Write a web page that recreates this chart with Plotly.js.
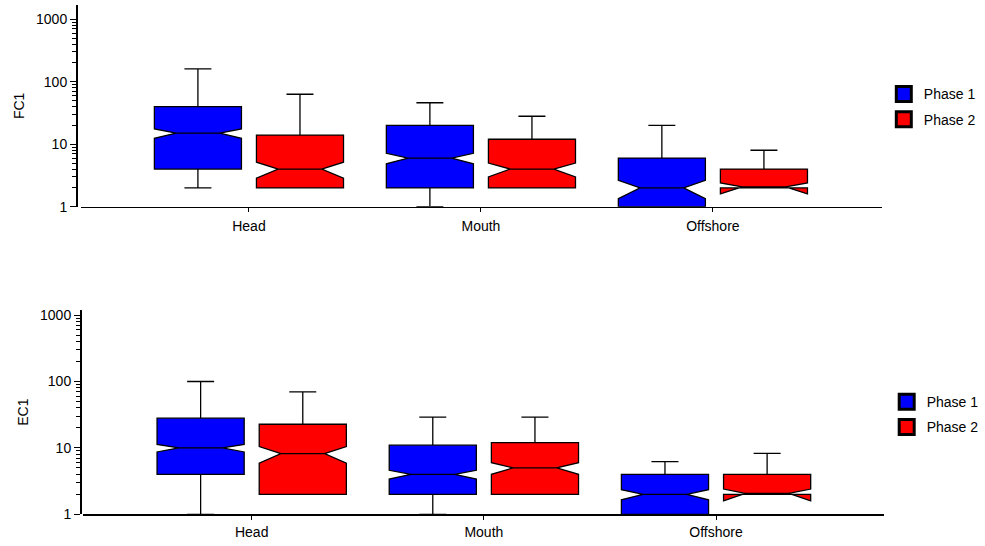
<!DOCTYPE html>
<html><head><meta charset="utf-8">
<script src="https://cdn.plot.ly/plotly-3.0.1.min.js"></script>
<style>html,body{margin:0;padding:0;background:#fff}#chart{width:985px;height:546px}</style>
</head><body><div id="chart"></div>
<script>
const categories = ['Head', 'Mouth', 'Offshore'];
const seriesNames = ['Phase 1', 'Phase 2'];
const seriesColors = ['#0000ff', '#ff0000'];

// FC1 (top panel)
const fc1P1Lower  = [2, 1, 1];
const fc1P1Q1     = [4, 2, 1];
const fc1P1Median = [15, 6, 2];
const fc1P1Q3     = [40, 20, 6];
const fc1P1Upper  = [160, 46, 20];
const fc1P1Notch  = [2.6, 1.15, 0.65];

const fc1P2Lower  = [2, 2, 2];
const fc1P2Q1     = [2, 2, 2];
const fc1P2Median = [4, 4, 2];
const fc1P2Q3     = [14, 12, 4];
const fc1P2Upper  = [63, 28, 8];
const fc1P2Notch  = [1.15, 1.0, 0.4];

// EC1 (bottom panel)
const ec1P1Lower  = [1, 1, 1];
const ec1P1Q1     = [4, 2, 1];
const ec1P1Median = [10, 4, 2];
const ec1P1Q3     = [28, 11, 4];
const ec1P1Upper  = [100, 29, 6.2];
const ec1P1Notch  = [1.3, 0.6, 0.35];

const ec1P2Lower  = [2, 2, 2];
const ec1P2Q1     = [2, 2, 2];
const ec1P2Median = [8.2, 5, 2];
const ec1P2Q3     = [22.7, 12, 4];
const ec1P2Upper  = [70, 29, 8.3];
const ec1P2Notch  = [2.3, 1.0, 0.4];

const yTickVals = [1, 10, 100, 1000];
const yTickText = ['1', '10', '100', '1000'];
const yMinorVals = [2,3,4,5,6,7,8,9,20,30,40,50,60,70,80,90,200,300,400,500,600,700,800,900];

function boxTrace(name, color, lower, q1, med, q3, upper, notch, xa, ya, group) {
  return {
    type: 'box', name: name, x: categories,
    lowerfence: lower, q1: q1, median: med, q3: q3, upperfence: upper,
    notched: true, notchspan: notch, notchwidth: 0.25,
    whiskerwidth: 0.31,
    fillcolor: color, line: {color: '#000000', width: 1.3},
    xaxis: xa, yaxis: ya, showlegend: false,
    alignmentgroup: group, offsetgroup: group + name,
    hoverinfo: 'skip'
  };
}
function legendTrace(name, color, xa, ya, legend, idx) {
  return {
    type: 'scatter', mode: 'markers', name: name, x: [null], y: [null],
    xaxis: xa, yaxis: ya, legend: legend, legendgroup: legend + idx,
    marker: {symbol: 'square', size: 15, color: color, line: {color: '#000000', width: 3}},
    showlegend: true, hoverinfo: 'skip'
  };
}

const data = [
  boxTrace(seriesNames[0], seriesColors[0], fc1P1Lower, fc1P1Q1, fc1P1Median, fc1P1Q3, fc1P1Upper, fc1P1Notch, 'x', 'y', 'top'),
  boxTrace(seriesNames[1], seriesColors[1], fc1P2Lower, fc1P2Q1, fc1P2Median, fc1P2Q3, fc1P2Upper, fc1P2Notch, 'x', 'y', 'top'),
  boxTrace(seriesNames[0], seriesColors[0], ec1P1Lower, ec1P1Q1, ec1P1Median, ec1P1Q3, ec1P1Upper, ec1P1Notch, 'x2', 'y2', 'bot'),
  boxTrace(seriesNames[1], seriesColors[1], ec1P2Lower, ec1P2Q1, ec1P2Median, ec1P2Q3, ec1P2Upper, ec1P2Notch, 'x2', 'y2', 'bot'),
  legendTrace(seriesNames[0], seriesColors[0], 'x', 'y', 'legend', 1),
  legendTrace(seriesNames[1], seriesColors[1], 'x', 'y', 'legend', 2),
  legendTrace(seriesNames[0], seriesColors[0], 'x2', 'y2', 'legend2', 1),
  legendTrace(seriesNames[1], seriesColors[1], 'x2', 'y2', 'legend2', 2)
];

const W = 985, H = 546;
const font = {family: 'Liberation Sans, Arial, sans-serif', size: 14, color: '#000000'};

function xAxis(domain, range, anchor, standoff) {
  return {
    type: 'category', domain: domain, range: range, anchor: anchor,
    showline: true, linecolor: '#000000', linewidth: 1.5,
    ticks: 'outside', ticklen: 4, tickwidth: 1, tickcolor: '#000000',
    ticklabelstandoff: standoff,
    showgrid: false, zeroline: false, fixedrange: true, tickfont: font
  };
}
function yAxis(domain, range, pos, title) {
  return {
    type: 'log', domain: domain, range: range, anchor: 'free', position: pos,
    showline: true, linecolor: '#000000', linewidth: 1.5,
    tickmode: 'array', tickvals: yTickVals, ticktext: yTickText,
    ticks: 'outside', ticklen: 6, tickwidth: 1, tickcolor: '#000000',
    minor: {tickmode: 'array', tickvals: yMinorVals, ticks: 'outside', ticklen: 4, tickwidth: 1, tickcolor: '#000000', showgrid: false},
    showgrid: false, zeroline: false, fixedrange: true, tickfont: font,
    title: {text: title, font: font, standoff: 6}
  };
}

const layout = {
  width: W, height: H,
  margin: {l: 0, r: 0, t: 0, b: 0},
  paper_bgcolor: '#ffffff', plot_bgcolor: 'rgba(0,0,0,0)',
  font: font,
  boxmode: 'group', boxgap: 0.12, boxgroupgap: 0.147,
  showlegend: true,
  xaxis: xAxis([81 / W, 882 / W], [-0.724, 2.729], 'y', 2),
  yaxis: yAxis([1 - 206.7 / H, 1 - 5 / H], [0, 3.227], 76 / W, 'FC1'),
  xaxis2: xAxis([83 / W, 884 / W], [-0.7266, 2.7234], 'y2', 0),
  yaxis2: yAxis([1 - 514.3 / H, 1 - 310 / H], [0, 3.077], 80 / W, 'EC1'),
  legend: {x: 883.8 / W, y: 1 - 78.4 / H, xanchor: 'left', yanchor: 'top',
           font: font, bgcolor: 'rgba(0,0,0,0)', traceorder: 'grouped', tracegroupgap: 4},
  legend2: {x: 886.7 / W, y: 1 - 386.1 / H, xanchor: 'left', yanchor: 'top',
            font: font, bgcolor: 'rgba(0,0,0,0)', traceorder: 'grouped', tracegroupgap: 4}
};

Plotly.newPlot('chart', data, layout, {displayModeBar: false, staticPlot: true});
</script>
</body></html>
